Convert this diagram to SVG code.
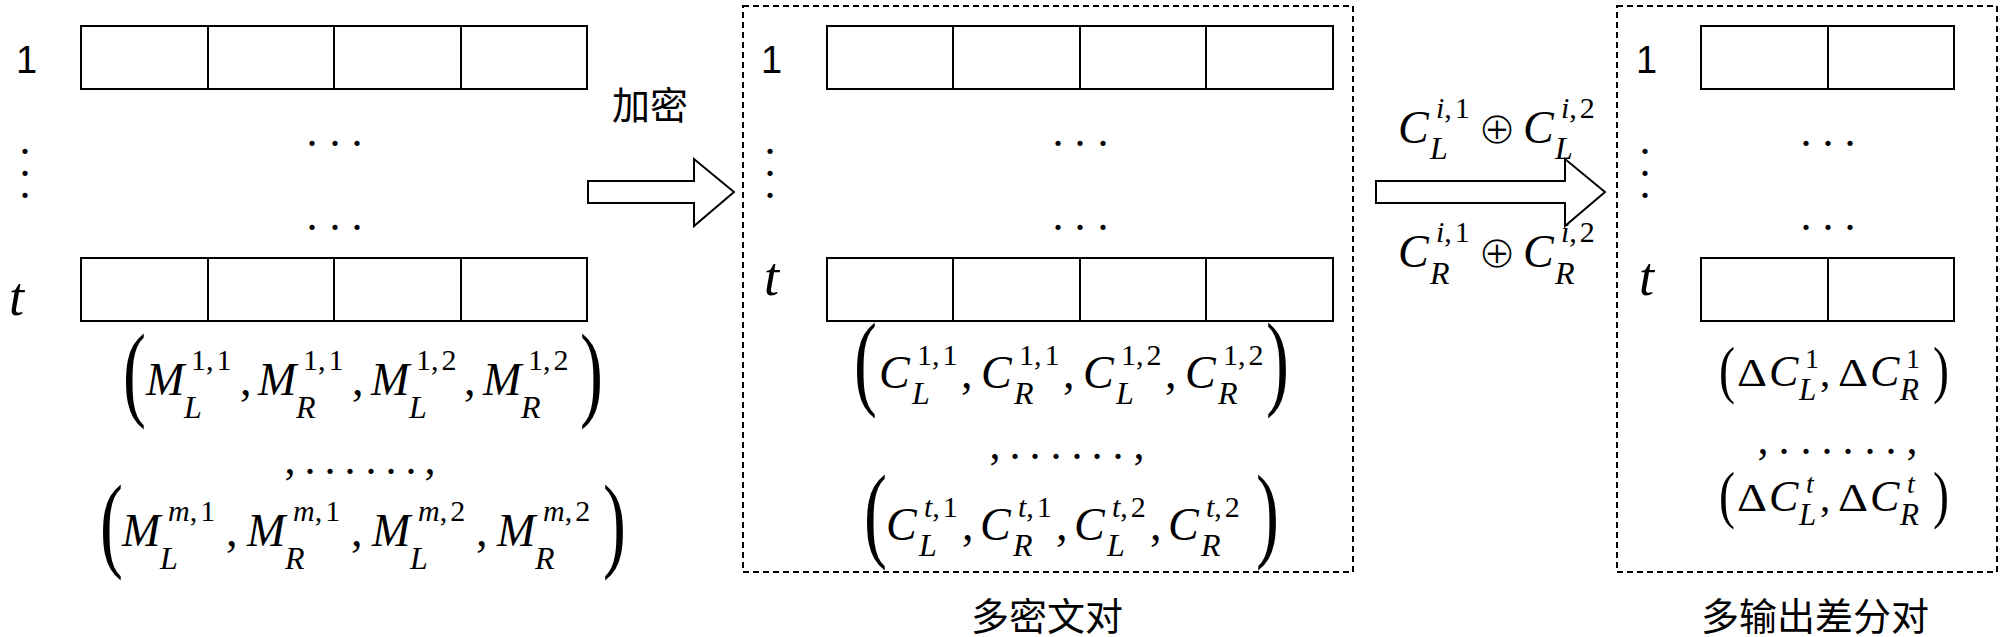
<svg xmlns="http://www.w3.org/2000/svg" width="2000" height="637" viewBox="0 0 2000 637">
<style>
.cell{fill:#fff;stroke:#000;stroke-width:2}
.dash{fill:none;stroke:#000;stroke-width:2;stroke-dasharray:6 4}
.arr{fill:#fff;stroke:#000;stroke-width:2;stroke-linejoin:miter}
.num{font-family:"Liberation Sans",Arial,sans-serif;font-size:38px}
.tl{font-family:"Liberation Serif",serif;font-style:italic;font-size:54px}
.dot{font-family:"Liberation Serif",serif;font-size:44px;text-anchor:middle}
.cjk{font-family:"Noto Sans CJK SC",sans-serif;font-size:38px;text-anchor:middle}
.mt{font-family:"Liberation Serif",serif}
.b{font-style:italic;font-size:46px}
.sb{font-style:italic;font-size:32px}
.sp{font-style:normal;font-size:30px}
.spi{font-style:italic;font-size:30px}
.cm{font-style:normal;font-size:46px}
.db{font-style:italic;font-size:44px}
.dsb{font-style:italic;font-size:31px}
.dsp{font-style:normal;font-size:28px}
.dspi{font-style:italic;font-size:28px}
.dup{font-style:normal;font-size:41px}
.dl{font-family:"Liberation Serif",serif;font-size:44px;text-anchor:middle}
.paren{font-family:"Liberation Serif",serif;font-size:106px}
.sparen{font-family:"Liberation Serif",serif;font-size:64px}
.op{font-family:"DejaVu Sans",sans-serif;font-size:46px;text-anchor:middle;stroke:#fff;stroke-width:1.4px}
</style>

<g id="plaintext-array">
  <rect class="cell" x="81" y="26" width="506" height="63"/>
  <line class="cell" x1="208" y1="26" x2="208" y2="89"/>
  <line class="cell" x1="334" y1="26" x2="334" y2="89"/>
  <line class="cell" x1="461" y1="26" x2="461" y2="89"/>
  <rect class="cell" x="81" y="258" width="506" height="63"/>
  <line class="cell" x1="208" y1="258" x2="208" y2="321"/>
  <line class="cell" x1="334" y1="258" x2="334" y2="321"/>
  <line class="cell" x1="461" y1="258" x2="461" y2="321"/>
  <text class="num" x="16" y="73">1</text>
  <text class="tl" x="9" y="315">t</text>
  <text class="dot" x="25 25 25" y="154 176 198">...</text>
  <text class="dot" x="312 335 357" y="146">...</text>
  <text class="dot" x="312 335 357" y="230">...</text>
</g>

<g id="plaintext-pairs">
  <text class="paren" transform="translate(123,407) scale(0.65,1)">(</text>
  <text class="mt"><tspan class="b" x="146" y="395">M</tspan><tspan class="sb" x="184" y="418">L</tspan><tspan class="sp" x="191" y="370">1,<tspan dx="3">1</tspan></tspan></text>
  <text class="mt cm" x="240" y="395">,</text>
  <text class="mt"><tspan class="b" x="258" y="395">M</tspan><tspan class="sb" x="296" y="418">R</tspan><tspan class="sp" x="303" y="370">1,<tspan dx="3">1</tspan></tspan></text>
  <text class="mt cm" x="352" y="395">,</text>
  <text class="mt"><tspan class="b" x="371" y="395">M</tspan><tspan class="sb" x="409" y="418">L</tspan><tspan class="sp" x="416" y="370">1,<tspan dx="3">2</tspan></tspan></text>
  <text class="mt cm" x="464" y="395">,</text>
  <text class="mt"><tspan class="b" x="483" y="395">M</tspan><tspan class="sb" x="521" y="418">R</tspan><tspan class="sp" x="528" y="370">1,<tspan dx="3">2</tspan></tspan></text>
  <text class="paren" transform="translate(580,407) scale(0.65,1)">)</text>

  <text class="dl" x="290 310 330 350 371 391 411 430" y="474">,......,</text>

  <text class="paren" transform="translate(100,558) scale(0.65,1)">(</text>
  <text class="mt"><tspan class="b" x="122" y="546">M</tspan><tspan class="sb" x="160" y="569">L</tspan><tspan class="spi" x="168" y="521">m</tspan><tspan class="sp">,<tspan dx="3">1</tspan></tspan></text>
  <text class="mt cm" x="226" y="546">,</text>
  <text class="mt"><tspan class="b" x="247" y="546">M</tspan><tspan class="sb" x="285" y="569">R</tspan><tspan class="spi" x="293" y="521">m</tspan><tspan class="sp">,<tspan dx="3">1</tspan></tspan></text>
  <text class="mt cm" x="351" y="546">,</text>
  <text class="mt"><tspan class="b" x="372" y="546">M</tspan><tspan class="sb" x="410" y="569">L</tspan><tspan class="spi" x="418" y="521">m</tspan><tspan class="sp">,<tspan dx="3">2</tspan></tspan></text>
  <text class="mt cm" x="476" y="546">,</text>
  <text class="mt"><tspan class="b" x="497" y="546">M</tspan><tspan class="sb" x="535" y="569">R</tspan><tspan class="spi" x="543" y="521">m</tspan><tspan class="sp">,<tspan dx="3">2</tspan></tspan></text>
  <text class="paren" transform="translate(603,558) scale(0.65,1)">)</text>
</g>

<g id="encrypt-label">
  <text class="cjk" x="650" y="119">加密</text>
</g>

<g id="ciphertext-pairs">
  <rect class="dash" x="743" y="6" width="610" height="566"/>
  <rect class="cell" x="827" y="26" width="506" height="63"/>
  <line class="cell" x1="953" y1="26" x2="953" y2="89"/>
  <line class="cell" x1="1080" y1="26" x2="1080" y2="89"/>
  <line class="cell" x1="1206" y1="26" x2="1206" y2="89"/>
  <rect class="cell" x="827" y="258" width="506" height="63"/>
  <line class="cell" x1="953" y1="258" x2="953" y2="321"/>
  <line class="cell" x1="1080" y1="258" x2="1080" y2="321"/>
  <line class="cell" x1="1206" y1="258" x2="1206" y2="321"/>
  <text class="num" x="761" y="73">1</text>
  <text class="tl" x="764" y="295">t</text>
  <text class="dot" x="770 770 770" y="154 176 198">...</text>
  <text class="dot" x="1058 1080 1103" y="146">...</text>
  <text class="dot" x="1058 1080 1103" y="230">...</text>

  <text class="paren" transform="translate(854,396) scale(0.65,1)">(</text>
  <text class="mt"><tspan class="b" x="879" y="388">C</tspan><tspan class="sb" x="912" y="404">L</tspan><tspan class="sp" x="917" y="365">1,<tspan dx="3">1</tspan></tspan></text>
  <text class="mt cm" x="961" y="388">,</text>
  <text class="mt"><tspan class="b" x="981" y="388">C</tspan><tspan class="sb" x="1014" y="404">R</tspan><tspan class="sp" x="1019" y="365">1,<tspan dx="3">1</tspan></tspan></text>
  <text class="mt cm" x="1063" y="388">,</text>
  <text class="mt"><tspan class="b" x="1083" y="388">C</tspan><tspan class="sb" x="1116" y="404">L</tspan><tspan class="sp" x="1121" y="365">1,<tspan dx="3">2</tspan></tspan></text>
  <text class="mt cm" x="1165" y="388">,</text>
  <text class="mt"><tspan class="b" x="1185" y="388">C</tspan><tspan class="sb" x="1218" y="404">R</tspan><tspan class="sp" x="1223" y="365">1,<tspan dx="3">2</tspan></tspan></text>
  <text class="paren" transform="translate(1266,396) scale(0.65,1)">)</text>

  <text class="dl" x="995 1015 1035 1056 1077 1097 1118 1139" y="459">,......,</text>

  <text class="paren" transform="translate(864,548) scale(0.65,1)">(</text>
  <text class="mt"><tspan class="b" x="886" y="540">C</tspan><tspan class="sb" x="919" y="556">L</tspan><tspan class="spi" x="924" y="517">t</tspan><tspan class="sp">,<tspan dx="3">1</tspan></tspan></text>
  <text class="mt cm" x="962" y="540">,</text>
  <text class="mt"><tspan class="b" x="980" y="540">C</tspan><tspan class="sb" x="1013" y="556">R</tspan><tspan class="spi" x="1018" y="517">t</tspan><tspan class="sp">,<tspan dx="3">1</tspan></tspan></text>
  <text class="mt cm" x="1056" y="540">,</text>
  <text class="mt"><tspan class="b" x="1074" y="540">C</tspan><tspan class="sb" x="1107" y="556">L</tspan><tspan class="spi" x="1112" y="517">t</tspan><tspan class="sp">,<tspan dx="3">2</tspan></tspan></text>
  <text class="mt cm" x="1150" y="540">,</text>
  <text class="mt"><tspan class="b" x="1168" y="540">C</tspan><tspan class="sb" x="1201" y="556">R</tspan><tspan class="spi" x="1206" y="517">t</tspan><tspan class="sp">,<tspan dx="3">2</tspan></tspan></text>
  <text class="paren" transform="translate(1256,548) scale(0.65,1)">)</text>

  <text class="cjk" x="1047" y="630">多密文对</text>
</g>

<g id="xor-label">
  <text class="mt"><tspan class="b" x="1398" y="143">C</tspan><tspan class="sb" x="1430" y="159">L</tspan><tspan class="spi" x="1436" y="118">i</tspan><tspan class="sp">,<tspan dx="3">1</tspan></tspan></text>
  <text class="op" x="1497" y="144">⊕</text>
  <text class="mt"><tspan class="b" x="1523" y="143">C</tspan><tspan class="sb" x="1555" y="159">L</tspan><tspan class="spi" x="1561" y="118">i</tspan><tspan class="sp">,<tspan dx="3">2</tspan></tspan></text>
  <text class="mt"><tspan class="b" x="1398" y="267">C</tspan><tspan class="sb" x="1430" y="284">R</tspan><tspan class="spi" x="1436" y="242">i</tspan><tspan class="sp">,<tspan dx="3">1</tspan></tspan></text>
  <text class="op" x="1497" y="268">⊕</text>
  <text class="mt"><tspan class="b" x="1523" y="267">C</tspan><tspan class="sb" x="1555" y="284">R</tspan><tspan class="spi" x="1561" y="242">i</tspan><tspan class="sp">,<tspan dx="3">2</tspan></tspan></text>
</g>

<g id="output-differences">
  <rect class="dash" x="1617" y="6" width="380" height="566"/>
  <rect class="cell" x="1701" y="26" width="253" height="63"/>
  <line class="cell" x1="1828" y1="26" x2="1828" y2="89"/>
  <rect class="cell" x="1701" y="258" width="253" height="63"/>
  <line class="cell" x1="1828" y1="258" x2="1828" y2="321"/>
  <text class="num" x="1636" y="73">1</text>
  <text class="tl" x="1639" y="295">t</text>
  <text class="dot" x="1645 1645 1645" y="154 176 198">...</text>
  <text class="dot" x="1806 1828 1850" y="146">...</text>
  <text class="dot" x="1806 1828 1850" y="230">...</text>

  <text class="sparen" transform="translate(1719,391) scale(0.75,1)">(</text>
  <text class="mt dup" x="1737" y="386" textLength="30" lengthAdjust="spacingAndGlyphs">Δ</text>
  <text class="mt"><tspan class="db" x="1769" y="386">C</tspan><tspan class="dsb" x="1799" y="400">L</tspan><tspan class="dsp" x="1805" y="368">1</tspan></text>
  <text class="mt dup" x="1820" y="386">,</text>
  <text class="mt dup" x="1838" y="386" textLength="30" lengthAdjust="spacingAndGlyphs">Δ</text>
  <text class="mt"><tspan class="db" x="1870" y="386">C</tspan><tspan class="dsb" x="1900" y="400">R</tspan><tspan class="dsp" x="1906" y="368">1</tspan></text>
  <text class="sparen" transform="translate(1933,391) scale(0.75,1)">)</text>

  <text class="dl" x="1763 1784 1806 1827 1848 1870 1891 1912" y="454">,......,</text>

  <text class="sparen" transform="translate(1719,516) scale(0.75,1)">(</text>
  <text class="mt dup" x="1737" y="511" textLength="30" lengthAdjust="spacingAndGlyphs">Δ</text>
  <text class="mt"><tspan class="db" x="1769" y="511">C</tspan><tspan class="dsb" x="1799" y="525">L</tspan><tspan class="dspi" x="1806" y="493">t</tspan></text>
  <text class="mt dup" x="1820" y="511">,</text>
  <text class="mt dup" x="1838" y="511" textLength="30" lengthAdjust="spacingAndGlyphs">Δ</text>
  <text class="mt"><tspan class="db" x="1870" y="511">C</tspan><tspan class="dsb" x="1900" y="525">R</tspan><tspan class="dspi" x="1907" y="493">t</tspan></text>
  <text class="sparen" transform="translate(1933,516) scale(0.75,1)">)</text>

  <text class="cjk" x="1815" y="630">多输出差分对</text>
</g>

<g id="connectors">
  <polygon class="arr" points="588,181 694,181 694,159 734,192 694,226 694,203 588,203"/>
  <polygon class="arr" points="1376,181 1565,181 1565,159 1605,192 1565,226 1565,203 1376,203"/>
</g>
</svg>
